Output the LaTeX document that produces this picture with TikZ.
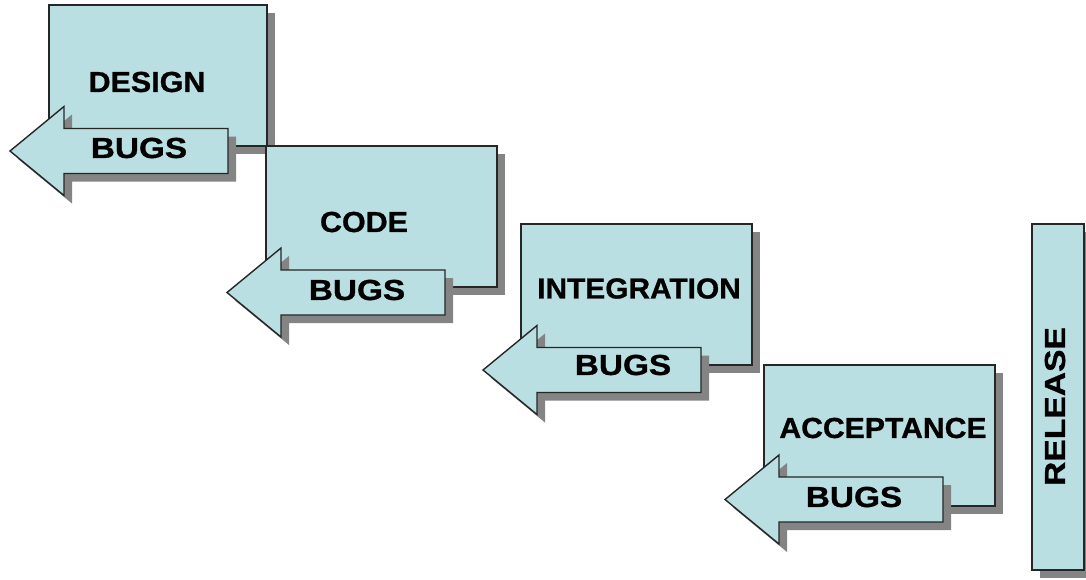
\documentclass[tikz,border=0pt]{standalone}
\usepackage{fontspec}
\setmainfont{Liberation Sans}
\newfontfamily\stagefont[BoldFont={Liberation Sans Bold},BoldFeatures={FakeBold=0.8}]{Liberation Sans}
\usepackage{graphicx}
\usetikzlibrary{shadows}

\definecolor{stagefill}{RGB}{186,223,227}
\definecolor{stageedge}{RGB}{38,38,38}
\definecolor{shadowgray}{RGB}{132,132,132}

% horizontally widened label text
\newcommand\widetext[2]{\scalebox{#1}[1]{#2}}

\begin{document}
\begin{tikzpicture}[x=1pt,y=-1pt,
  softshadow/.style={drop shadow={shadow xshift=8pt,shadow yshift=-8pt,fill=shadowgray,opacity=1}},
  stage/.style={draw=stageedge,line width=1.4pt,fill=stagefill,softshadow,
    anchor=north west,inner sep=0pt,outer sep=0pt},
  arrowbody/.style={draw=stageedge,line width=1.4pt,fill=stagefill,softshadow,line join=miter},
  lbl/.style={font=\stagefont\bfseries\fontsize{29}{29}\selectfont,inner sep=0pt,text=black},
  pics/bugsarrow/.style={code={
    \draw[arrowbody] (0,0) -- (54,-44.5) -- (54,-22.5) -- (218,-22.5)
      -- (218,22.5) -- (54,22.5) -- (54,44.5) -- cycle;
  }}
]
\useasboundingbox (0,0) rectangle (1086,579);

% ---- DESIGN ----
\node[stage,minimum width=218pt,minimum height=141pt] (design) at (49,5) {};
\node[lbl] (designlbl) at (147,82) {\widetext{1.05}{DESIGN}};
\pic (bugsA) at (10,151) {bugsarrow};
\node[lbl] (bugsAlbl) at (139,148) {\widetext{1.15}{BUGS}};

% ---- CODE ----
\node[stage,minimum width=231pt,minimum height=141pt] (code) at (266,146) {};
\node[lbl] (codelbl) at (364,222) {\widetext{1.05}{CODE}};
\pic (bugsB) at (227,292.5) {bugsarrow};
\node[lbl] (bugsBlbl) at (357,290) {\widetext{1.15}{BUGS}};

% ---- INTEGRATION ----
\node[stage,minimum width=231pt,minimum height=141pt] (integration) at (521,224) {};
\node[lbl] (integrationlbl) at (639,288.5) {\widetext{1.03}{INTEGRATION}};
\pic (bugsC) at (483,370) {bugsarrow};
\node[lbl] (bugsClbl) at (623,365) {\widetext{1.15}{BUGS}};

% ---- ACCEPTANCE ----
\node[stage,minimum width=231pt,minimum height=141pt] (acceptance) at (764,365) {};
\node[lbl] (acceptancelbl) at (883,428) {\widetext{1.04}{ACCEPTANCE}};
\pic (bugsD) at (725,499.5) {bugsarrow};
\node[lbl] (bugsDlbl) at (854,497) {\widetext{1.15}{BUGS}};

% ---- RELEASE ----
\node[stage,minimum width=52pt,minimum height=346pt] (release) at (1032,224) {};
\node[lbl,rotate=90] (releaselbl) at (1055,406.5) {\widetext{1.16}{RELEASE}};
\end{tikzpicture}
\end{document}
